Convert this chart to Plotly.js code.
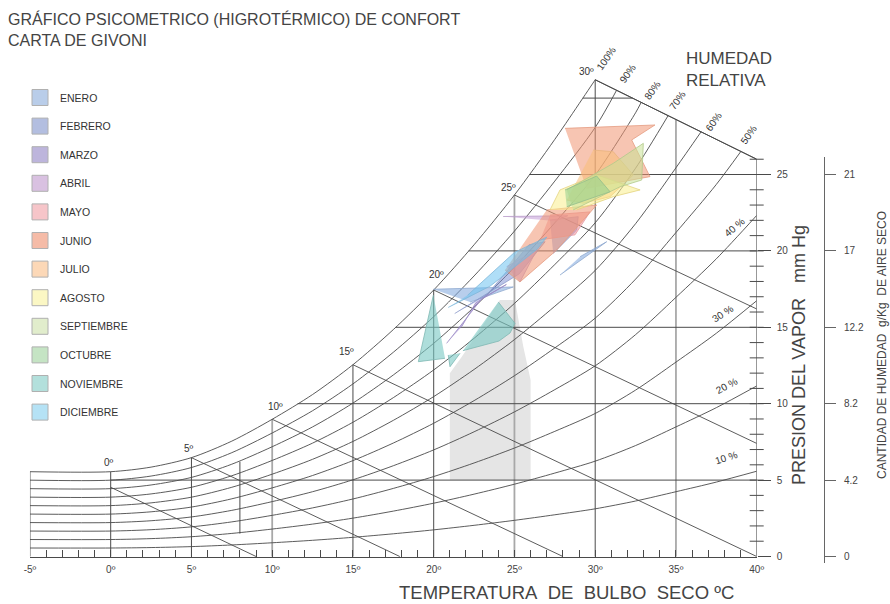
<!DOCTYPE html>
<html><head><meta charset="utf-8">
<script src="https://cdn.plot.ly/plotly-3.0.1.min.js"></script>
<style>html,body{margin:0;padding:0;background:#fff}#chart{width:890px;height:604px}</style>
</head><body><div id="chart"></div>
<script>
// ---------------- DATA ----------------
const rhLevels = [100, 90, 80, 70, 60, 50, 40, 30, 20, 10];
const satT = [-5, 0, 2.5, 5, 7.5, 10, 12.5, 15, 17.5, 20, 22.5, 25, 27.5, 30, 32.5, 35, 37.5, 40];
const satP = [5.55, 5.55, 5.85, 6.47, 7.55, 8.98, 10.6, 12.55, 14.85, 17.44, 20.4, 23.66, 27.3, 31.2, 36.3, 42.4, 48.7, 55.8];
const topBoundT = [30, 40];
const topBoundP = [31.2, 26.0];
const wetBulbT = [0, 5, 10, 15, 20, 25, 30];
const wetBulbStartP = [4.53, 6.47, 8.98, 12.55, 17.44, 23.66, 31.2];
const wetBulbEndT = [9.0, 17.9, 28.0, 40, 40, 40, 40];
const wetBulbEndP = [0, 0, 0, 0, 7.4, 16.2, 26.0];
const gridDarkT = [0, 5, 15, 20, 30];
const gridLightT = [10, 25, 35];
const gridP = [5, 10, 15, 20, 25, 30];
const auxLineT = [8, 8];
const auxLineP = [1.5, 6.2];
const xTickVals = [-5, 0, 5, 10, 15, 20, 25, 30, 35, 40];
const xTickText = ['-5º', '0º', '5º', '10º', '15º', '20º', '25º', '30º', '35º', '40º'];
const pressureTicks = [0, 5, 10, 15, 20, 25];
const pressureText = ['0', '5', '10', '15', '20', '25'];
const humidityText = ['0', '4.2', '8.2', '12.2', '17', '21'];
const minorPressure = [1,2,3,4,5,6,7,8,9,10,11,12,13,14,15,16,17,18,19,20,21,22,23,24,25,26];
const comfortT = [21.0, 21.0, 21.73, 24.1, 25.03, 25.55, 26.0, 26.0];
const comfortP = [5.0, 11.99, 13.06, 16.79, 16.79, 13.73, 11.55, 5.0];

const months = ['ENERO','FEBRERO','MARZO','ABRIL','MAYO','JUNIO','JULIO','AGOSTO','SEPTIEMBRE','OCTUBRE','NOVIEMBRE','DICIEMBRE'];
const eneroT = [19.98, 24.93, 22.25, null, 27.82, 30.71, 29.06];
const eneroP = [17.49, 17.64, 16.65, null, 18.42, 20.60, 19.62];
const febreroT = [21.3, 25.3, 26.9, 25.9, 23.2, null, 27.20, 28.95, 28.85, 27.40];
const febreroP = [15.9, 18.5, 20.6, 20.4, 17.0, null, 22.02, 22.24, 21.37, 19.84];
const marzoT = [20.80, 23.0, 24.5, 22.6, 21.73];
const marzoP = [13.95, 16.9, 17.8, 16.6, 15.04];
const abrilT = [24.52, 26.38, 25.34, null, 24.3, 28.3, 27.5];
const abrilP = [18.97, 20.06, 17.97, null, 22.25, 22.3, 21.95];
const mayoT = [27.21, 29.68, 28.75, 26.58];
const mayoP = [22.35, 22.55, 21.05, 20.72];
const junioT = [28.13, 33.70, 32.26, 33.39, 29.47, null, 27.0, 30.09, 27.62, 25.34, 24.42];
const junioP = [28.02, 28.24, 27.26, 24.86, 24.10, null, 22.68, 23.0, 20.06, 17.97, 18.75];
const julioT = [29.88, 31.12, 32.36, 30.92, 29.26, 28.24];
const julioP = [26.6, 26.49, 24.97, 23.55, 23.12, 23.33];
const agostoT = [27.2, 27.82, 30.09, 32.78, 31.12, 28.85];
const agostoP = [22.68, 23.99, 24.97, 23.99, 23.55, 22.68];
const septiembreT = [28.24, 31.12, 32.98, 32.88, 31.54, 28.64];
const septiembreP = [23.99, 25.73, 27.04, 24.64, 24.20, 22.68];
const octubreT = [28.13, 30.09, 30.92, 28.24];
const octubreP = [23.99, 24.90, 23.87, 22.89];
const noviembreT = [19.98, 19.05, 20.70, null, 20.90, 21.01, 21.63, null, 24.0, 25.03, 24.73, 24.04, 21.81];
const noviembreP = [17.11, 12.75, 12.97, null, 13.19, 12.42, 13.30, null, 16.66, 15.26, 14.63, 14.10, 13.47];
const diciembreT = [20.9, 23.5, 26.4, 27.0, 25.0, 22.1];
const diciembreP = [16.3, 17.7, 20.1, 20.9, 19.9, 17.1];

// ---------------- STYLE ----------------
const legendColors = ['#b9cde9','#b3bee0','#bdb5dc','#d9c1e1','#f6c5c9','#f5bba7','#fcd8b7','#fbf7c4','#e1edcc','#c5e4c4','#b3e0dc','#b5e2f5'];
const polyFill = ['rgba(125,165,220,0.55)','rgba(120,140,210,0.5)','rgba(150,125,205,0.55)','rgba(195,155,215,0.55)',
  'rgba(240,145,155,0.55)','rgba(240,150,115,0.55)','rgba(250,190,120,0.55)','rgba(250,238,140,0.55)',
  'rgba(200,225,150,0.55)','rgba(150,205,140,0.55)','rgba(120,200,195,0.6)','rgba(110,195,240,0.55)'];
const polyLine = ['#8fa9cf','#8c99c9','#9b8cc4','#b79bc8','#e59aa2','#e59c82','#e9b47f','#e3d37f','#b3c98c','#93bd8b','#7fb8b3','#7fb6d8'];
const polyT = [eneroT, febreroT, marzoT, abrilT, mayoT, junioT, julioT, agostoT, septiembreT, octubreT, noviembreT, diciembreT];
const polyP = [eneroP, febreroP, marzoP, abrilP, mayoP, junioP, julioP, agostoP, septiembreP, octubreP, noviembreP, diciembreP];

const FONT = 'Liberation Sans, Arial, sans-serif';
const LINE = '#4a4a4a';

// ---------------- helpers ----------------
function interp(xs, ys, x) {
  for (let i = 0; i < xs.length - 1; i++) {
    if (x >= xs[i] && x <= xs[i + 1]) {
      const f = (x - xs[i]) / (xs[i + 1] - xs[i]);
      return ys[i] + f * (ys[i + 1] - ys[i]);
    }
  }
  return x < xs[0] ? ys[0] : ys[ys.length - 1];
}
const satAt = T => interp(satT, satP, T);
const bndAt = T => interp(topBoundT, topBoundP, T);
function satInv(p) {
  for (let i = 0; i < satT.length - 1; i++) {
    if (p >= satP[i] && p <= satP[i + 1] && satP[i + 1] > satP[i]) {
      return satT[i] + (p - satP[i]) / (satP[i + 1] - satP[i]) * (satT[i + 1] - satT[i]);
    }
  }
  return satT[0];
}

const rhX = [], rhY = [];
rhLevels.forEach(rh => {
  let prevT = null, prevP = null;
  for (let i = 0; i < satT.length; i++) {
    const T = satT[i], p = rh / 100 * satP[i];
    if (T >= topBoundT[0] && p > bndAt(T)) {
      const f0 = prevP - bndAt(prevT), f1 = p - bndAt(T);
      const tt = prevT + (T - prevT) * f0 / (f0 - f1);
      rhX.push(tt); rhY.push(bndAt(tt));
      break;
    }
    rhX.push(T); rhY.push(p); prevT = T; prevP = p;
  }
  rhX.push(null); rhY.push(null);
});

const wbX = [], wbY = [];
wetBulbT.forEach((t, i) => { wbX.push(t, wetBulbEndT[i], null); wbY.push(wetBulbStartP[i], wetBulbEndP[i], null); });

function topAt(T) { return T >= topBoundT[0] ? Math.min(satAt(T), bndAt(T)) : satAt(T); }
function verticals(list) {
  const x = [], y = [];
  list.forEach(T => { x.push(T, T, null); y.push(0, topAt(T), null); });
  return {x, y};
}
const vDark = verticals(gridDarkT), vLight = verticals(gridLightT);
const frameX = [satT[0], satT[0], null, topBoundT[1], topBoundT[1]];
const frameY = [0, satP[0], null, 0, topBoundP[1]];

const hX = [], hY = [];
gridP.forEach(p => {
  const start = p < satP[0] ? 0 : satInv(p);
  let end = topBoundT[1];
  if (p > topBoundP[1]) end = topBoundT[0] + (topBoundP[0] - p) / (topBoundP[0] - topBoundP[1]) * (topBoundT[1] - topBoundT[0]);
  hX.push(start, end, null); hY.push(p, p, null);
});

const lineTrace = (x, y, color, width) => ({x, y, type: 'scatter', mode: 'lines', line: {color, width}, hoverinfo: 'skip', showlegend: false, cliponaxis: false});

const traces = [];
traces.push({x: comfortT, y: comfortP, type: 'scatter', mode: 'lines', fill: 'toself', fillcolor: '#e5e5e5', line: {width: 0}, hoverinfo: 'skip', showlegend: false});
traces.push(lineTrace(vLight.x, vLight.y, '#a8a8a8', 1.8));
traces.push(lineTrace(vDark.x, vDark.y, LINE, 1));
traces.push(lineTrace(hX, hY, LINE, 1));
traces.push(lineTrace(frameX, frameY, LINE, 1));
traces.push(lineTrace(auxLineT, auxLineP, LINE, 1));
traces.push(Object.assign(lineTrace(rhX, rhY, LINE, 0.9), {line: {color: LINE, width: 0.9, shape: 'spline', smoothing: 0.8}}));
traces.push(lineTrace(wbX, wbY, LINE, 0.9));
traces.push(lineTrace(topBoundT, topBoundP, LINE, 1));
traces.push({x: minorPressure.map(() => topBoundT[1]), y: minorPressure, type: 'scatter', mode: 'markers',
  marker: {symbol: 'line-ew', size: 10, line: {width: 1, color: LINE}}, hoverinfo: 'skip', showlegend: false, cliponaxis: false});

months.forEach((m, i) => {
  traces.push({x: polyT[i], y: polyP[i], type: 'scatter', mode: 'lines', fill: 'toself', fillcolor: polyFill[i],
    line: {color: polyLine[i], width: 0.8}, name: m, legendgroup: m, showlegend: false, hoverinfo: 'skip'});
});
months.forEach((m, i) => {
  traces.push({x: [null], y: [null], type: 'scatter', mode: 'markers', name: m, legendgroup: m,
    marker: {symbol: 'square', size: 16, color: legendColors[i], line: {color: '#b0b0b0', width: 1}}});
});
traces.push({x: [null], y: [null], yaxis: 'y2', type: 'scatter', mode: 'markers', showlegend: false, hoverinfo: 'skip'});

const ann = [];
const wbShift = [[-2, 9], [-2, 9], [3, 13], [-6, 13], [3, 16], [-6, 7], [-9, 8]];
wetBulbT.forEach((t, i) => {
  ann.push({x: t, y: topAt(t), xref: 'x', yref: 'y', xanchor: 'center', yanchor: 'middle', text: t + 'º', showarrow: false,
    xshift: wbShift[i][0], yshift: wbShift[i][1], font: {size: 10, color: '#333', family: FONT}});
});
const rhTop = [[30.67, 32.62, '100%'], [32.03, 31.58, '90%'], [33.52, 30.53, '80%'], [35.07, 29.87, '70%'], [37.36, 28.44, '60%'], [39.53, 27.59, '50%']];
rhTop.forEach(a => ann.push({x: a[0], y: a[1], xref: 'x', yref: 'y', xanchor: 'center', yanchor: 'middle', text: a[2], showarrow: false, textangle: -55,
  font: {size: 10, color: '#333', family: FONT}}));
const rhSide = [[38.6, 21.55, '40 %', -40], [37.91, 15.93, '30 %', -33], [38.16, 11.22, '20 %', -28], [38.16, 6.45, '10 %', -18]];
rhSide.forEach(a => ann.push({x: a[0], y: a[1], xref: 'x', yref: 'y', xanchor: 'center', yanchor: 'middle', text: a[2], showarrow: false, textangle: a[3],
  font: {size: 10, color: '#333', family: FONT}}));
ann.push({x: 684 / 890, y: 1 - 47 / 604, xref: 'paper', yref: 'paper', xanchor: 'left', yanchor: 'top', align: 'left',
  text: 'HUMEDAD<br>RELATIVA', showarrow: false, font: {size: 17, color: '#444', family: FONT}});
ann.push({x: 799 / 890, y: 1 - 355 / 604, xref: 'paper', yref: 'paper', xanchor: 'center', yanchor: 'middle', textangle: -90,
  text: 'PRESION DEL VAPOR\u00a0\u00a0\u00a0mm\u00a0Hg', showarrow: false, font: {size: 18, color: '#444', family: FONT}});
ann.push({x: 882 / 890, y: 1 - 345 / 604, xref: 'paper', yref: 'paper', xanchor: 'center', yanchor: 'middle', textangle: -90,
  text: 'CANTIDAD DE HUMEDAD\u00a0\u00a0g/Kg\u00a0\u00a0DE AIRE SECO', showarrow: false, font: {size: 12, color: '#444', family: FONT}});
ann.push({x: 566 / 890, y: 1 - 592 / 604, xref: 'paper', yref: 'paper', xanchor: 'center', yanchor: 'middle',
  text: 'TEMPERATURA\u00a0\u00a0DE\u00a0\u00a0BULBO\u00a0\u00a0SECO\u00a0ºC', showarrow: false, font: {size: 18.5, color: '#444', family: FONT}});

const layout = {
  width: 890, height: 604,
  margin: {l: 0, r: 0, t: 0, b: 0},
  paper_bgcolor: '#fff', plot_bgcolor: 'rgba(0,0,0,0)',
  font: {family: FONT, color: '#444'},
  title: {text: 'GRÁFICO PSICOMETRICO (HIGROTÉRMICO) DE CONFORT<br>CARTA DE GIVONI', x: 8 / 890, xanchor: 'left', xref: 'paper',
    y: 1 - 25 / 604, yref: 'paper', yanchor: 'top', font: {size: 16, color: '#444', family: FONT}},
  showlegend: true,
  legend: {x: 20 / 890, xanchor: 'left', y: 1 - 83 / 604, yanchor: 'top', bgcolor: 'rgba(0,0,0,0)',
    font: {size: 10.5, color: '#333', family: FONT}, tracegroupgap: 9.6, itemclick: false},
  xaxis: {domain: [0.03365, 0.85022], range: [-5, 40], anchor: 'free', position: (604 - 556.5) / 604,
    showline: true, linecolor: LINE, linewidth: 1, showgrid: false, zeroline: false,
    tickmode: 'array', tickvals: xTickVals, ticktext: xTickText, ticks: 'inside', ticklen: 7, tickcolor: LINE,
    minor: {tickmode: 'linear', tick0: 0, dtick: 1, ticks: 'inside', ticklen: 7, tickcolor: LINE, showgrid: false},
    tickfont: {size: 10, color: '#444'}, ticklabelstandoff: 3, fixedrange: true},
  yaxis: {domain: [0, 1], range: [-3.109, 36.42], side: 'right', anchor: 'x', showline: false, showgrid: false, zeroline: false,
    tickmode: 'array', tickvals: pressureTicks, ticktext: pressureText, ticks: 'outside', ticklen: 13, tickcolor: LINE,
    tickfont: {size: 10, color: '#444'}, ticklabelstandoff: 4, fixedrange: true},
  yaxis2: {domain: [41 / 604, 447 / 604], range: [-0.425, 26.145], side: 'right', anchor: 'free', position: 824 / 890,
    showline: true, linecolor: '#666', linewidth: 1, showgrid: false, zeroline: false,
    tickmode: 'array', tickvals: pressureTicks, ticktext: humidityText, ticks: 'outside', ticklen: 11, tickcolor: '#666',
    tickfont: {size: 10, color: '#444'}, ticklabelstandoff: 6, fixedrange: true},
  annotations: ann,
  hovermode: false
};

Plotly.newPlot('chart', traces, layout, {displayModeBar: false, staticPlot: true});
</script>
</body></html>
